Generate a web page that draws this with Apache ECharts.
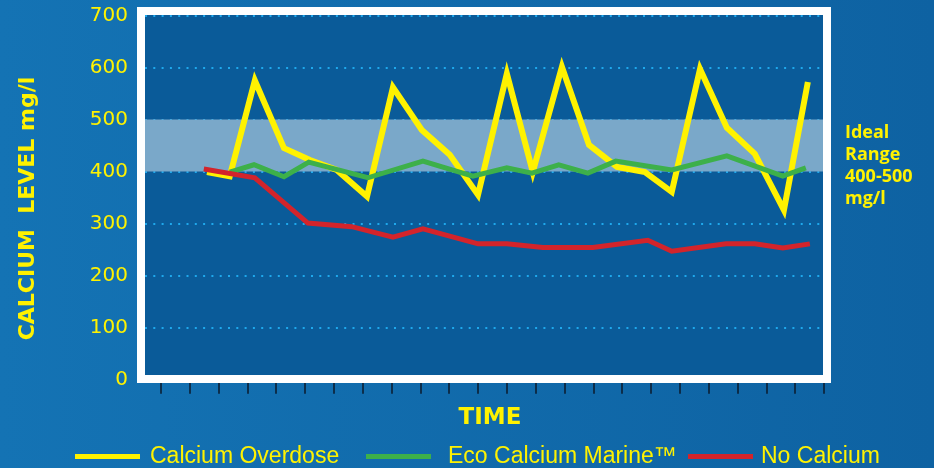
<!DOCTYPE html>
<html>
<head>
<meta charset="utf-8">
<script src="https://cdn.jsdelivr.net/npm/echarts@6/dist/echarts.min.js"></script>
<style>
html,body{margin:0;padding:0;background:#0f66a6;}
#c{width:934px;height:468px;}
</style>
</head>
<body>
<div id="c"></div>
<script>
// ---- data (time in tick units, level in mg/l) ----
const timeTicks = [0,1,2,3,4,5,6,7,8,9,10,11,12,13,14,15,16,17,18,19,20,21,22,23];

const overdoseTime  = [1.60,2.39,3.26,4.27,5.17,6.10,7.15,8.05,9.05,10.02,11.0,12.0,12.9,13.91,14.85,15.82,16.79,17.72,18.7,19.63,20.6,21.61,22.44];
const overdoseLevel = [399,391,575,445,422,403,352,562,480,432,355,588,399,601,451,409,399,361,597,484,434,326,572];

const ecoTime  = [2.39,3.23,4.27,5.13,7.18,9.09,10.82,12.0,12.87,13.8,14.81,15.78,17.72,19.63,21.57,22.37];
const ecoLevel = [399,413,390,418,388,420,391,407,397,413,397,420,403,430,391,407];

const noneTime  = [1.49,3.26,5.10,6.62,8.05,9.09,11.0,12.0,13.25,14.98,16.89,17.72,19.6,20.6,21.57,22.51];
const noneLevel = [405,388,301,294,274,290,261,261,254,254,268,247,261,261,253,261];

const idealRange = [400, 500];
const seriesNames = ['Calcium Overdose', 'Eco Calcium Marine\u2122', 'No Calcium'];

const zip = (xs, ys) => xs.map((x, i) => [x, ys[i]]);

const YELLOW = '#fff200';
const GREEN = '#3db04a';
const RED = '#d3242b';

const chart = echarts.init(document.getElementById('c'), null, {renderer: 'canvas'});

const legendText = (pad) => ({
  color: YELLOW, fontFamily: 'Liberation Sans', fontSize: 23, padding: [0, 0, 0, pad]
});
const legendBase = {
  top: 445, padding: 0, icon: 'rect', itemWidth: 65, itemHeight: 5, selectedMode: false
};

const option = {
  animation: false,
  backgroundColor: {
    type: 'linear', x: 0, y: 0, x2: 1, y2: 0,
    colorStops: [{offset: 0, color: '#1473b4'}, {offset: 1, color: '#0e62a2'}]
  },
  grid: {left: 145, right: 110, top: 15.4, bottom: 88.3},
  xAxis: {
    type: 'value', min: -0.55, max: 23,
    axisLine: {show: false},
    axisTick: {show: true, customValues: timeTicks, length: 14, lineStyle: {color: '#0b1a2b', width: 1.5}},
    axisLabel: {show: false},
    splitLine: {show: false},
    name: 'TIME', nameLocation: 'middle', nameGap: 27,
    nameTextStyle: {color: YELLOW, fontFamily: 'DejaVu Sans', fontWeight: 'bold', fontSize: 23, padding: [0, 0, 0, 11]}
  },
  yAxis: {
    type: 'value', min: 0, max: 700, interval: 100,
    axisLine: {show: false},
    axisTick: {show: false},
    axisLabel: {color: YELLOW, fontFamily: 'DejaVu Sans', fontSize: 20, margin: 17},
    splitLine: {show: true, lineStyle: {color: '#1fa8ec', width: 2, type: [2, 6.3]}},
    name: 'CALCIUM  LEVEL mg/l', nameLocation: 'middle', nameRotate: 90, nameGap: 106,
    nameTextStyle: {color: YELLOW, fontFamily: 'DejaVu Sans', fontWeight: 'bold', fontSize: 22, padding: [0, 22, 0, 0]}
  },
  legend: [
    Object.assign({}, legendBase, {left: 75, data: [seriesNames[0]], textStyle: legendText(5)}),
    Object.assign({}, legendBase, {left: 366, data: [seriesNames[1]], textStyle: legendText(12)}),
    Object.assign({}, legendBase, {left: 688, data: [seriesNames[2]], textStyle: legendText(3)})
  ],
  graphic: [
    {type: 'rect', silent: true, z: -10, shape: {x: 145, y: 15, width: 678, height: 360}, style: {fill: '#0a5b99'}},
    {type: 'rect', silent: true, z: 100, shape: {x: 141, y: 11, width: 686, height: 368}, style: {fill: 'none', stroke: '#ffffff', lineWidth: 8}},
    {type: 'text', silent: true, z: 100, x: 845, y: 122,
      style: {text: 'Ideal\nRange\n400-500\nmg/l', fill: YELLOW, font: 'bold 18px "Open Sans"', lineHeight: 22, verticalAlign: 'top', align: 'left'}}
  ],
  series: [
    {
      name: 'band', type: 'line', data: [], z: -5, silent: true,
      markArea: {silent: true, itemStyle: {color: '#7aa8c9'}, data: [[{yAxis: idealRange[0]}, {yAxis: idealRange[1]}]]}
    },
    {
      name: seriesNames[0], type: 'line', data: zip(overdoseTime, overdoseLevel), symbol: 'none', z: 3,
      itemStyle: {color: YELLOW}, lineStyle: {color: YELLOW, width: 6, join: 'miter', miterLimit: 20}
    },
    {
      name: seriesNames[1], type: 'line', data: zip(ecoTime, ecoLevel), symbol: 'none', z: 4,
      itemStyle: {color: GREEN}, lineStyle: {color: GREEN, width: 5, join: 'miter', miterLimit: 20}
    },
    {
      name: seriesNames[2], type: 'line', data: zip(noneTime, noneLevel), symbol: 'none', z: 5,
      itemStyle: {color: RED}, lineStyle: {color: RED, width: 5, join: 'miter', miterLimit: 20}
    }
  ]
};
chart.setOption(option);
</script>
</body>
</html>
